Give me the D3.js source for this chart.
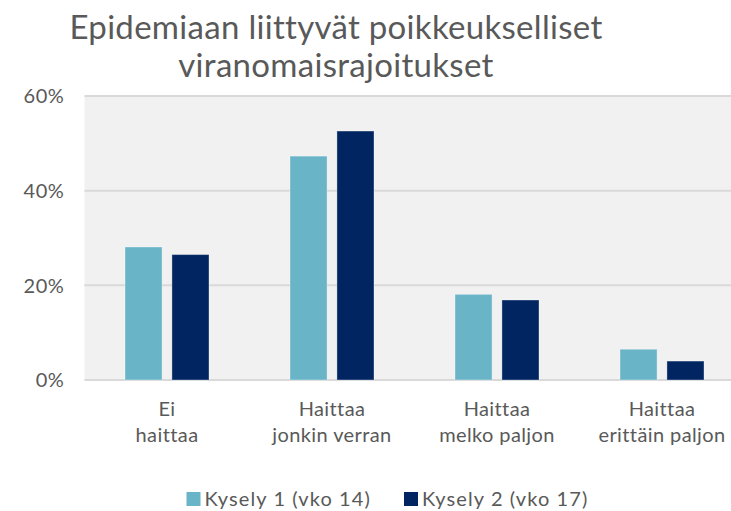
<!DOCTYPE html>
<html>
<head>
<meta charset="utf-8">
<script src="https://cdn.jsdelivr.net/npm/d3@7"></script>
<style>
  body { margin: 0; background: #fff; }
  svg { display: block; font-family: Lato, "Open Sans", sans-serif; }
</style>
</head>
<body>
<div id="chart"></div>
<script>
// data
var categories = [["Ei", "haittaa"], ["Haittaa", "jonkin verran"], ["Haittaa", "melko paljon"], ["Haittaa", "erittäin paljon"]];
var seriesNames = ["Kysely 1 (vko 14)", "Kysely 2 (vko 17)"];
var kysely1 = [0.281, 0.473, 0.181, 0.065];
var kysely2 = [0.265, 0.526, 0.169, 0.040];
var yTicks = [0, 0.2, 0.4, 0.6];
var titleLines = ["Epidemiaan liittyvät poikkeukselliset", "viranomaisrajoitukset"];

var W = 731, H = 511;
var margin = { top: 96, left: 84.5, right: -13.5, bottom: 131 }; // plot runs off the right edge
var width = W - margin.left - margin.right,
    height = H - margin.top - margin.bottom;

var colors = ["#6ab4c8", "#002561"];

var svg = d3.select("#chart").append("svg")
    .attr("width", W)
    .attr("height", H);

var g = svg.append("g")
    .attr("transform", "translate(" + margin.left + "," + margin.top + ")");

var x0 = d3.scaleBand()
    .domain(d3.range(categories.length))
    .range([0, width]);

var x1 = d3.scaleBand()
    .domain([0, 1])
    .range([40.5, 124.5])
    .paddingInner(0.21);

var y = d3.scaleLinear()
    .domain([0, 0.6])
    .range([height, 0]);

// plot background
g.append("rect")
    .attr("x", 0).attr("y", 0)
    .attr("width", width).attr("height", height)
    .attr("fill", "#f1f1f1");

// gridlines
g.selectAll(".grid")
    .data(yTicks)
    .enter().append("line")
    .attr("x1", 0).attr("x2", width)
    .attr("y1", d => y(d)).attr("y2", d => y(d))
    .attr("stroke", "#d9d9d9")
    .attr("stroke-width", 2);

// y labels
g.selectAll(".ylab")
    .data(yTicks)
    .enter().append("text")
    .attr("x", -20)
    .attr("y", d => y(d))
    .attr("dy", "0.36em")
    .attr("text-anchor", "end")
    .attr("fill", "#595959")
    .attr("font-size", 20)
    .attr("letter-spacing", 0.6)
    .text(d3.format(".0%"));

var series = [kysely1, kysely2];
series.forEach(function(vals, s) {
    g.selectAll(".bar" + s)
        .data(vals)
        .enter().append("rect")
        .attr("x", (d, i) => x0(i) + x1(s))
        .attr("y", d => y(d))
        .attr("width", x1.bandwidth())
        .attr("height", d => y(0) - y(d))
        .attr("fill", colors[s])
        .attr("stroke", "#ffffff")
        .attr("stroke-opacity", 0.35)
        .attr("stroke-width", 1);
});

// category labels, two lines each
var cat = g.selectAll(".cat")
    .data(categories)
    .enter().append("text")
    .attr("text-anchor", "middle")
    .attr("fill", "#595959")
    .attr("font-size", 20)
    .attr("letter-spacing", 0.4)
    .attr("transform", (d, i) => "translate(" + (x0(i) + x0.bandwidth() / 2) + "," + (height + 36) + ")");
cat.selectAll("tspan")
    .data(d => d)
    .enter().append("tspan")
    .attr("x", 0)
    .attr("dy", (d, i) => i ? 26 : 0)
    .text(d => d);

// title, one text per line
svg.selectAll(".title")
    .data(titleLines)
    .enter().append("text")
    .attr("text-anchor", "middle")
    .attr("fill", "#595959")
    .attr("font-size", 33)
    .attr("letter-spacing", 0.3)
    .attr("x", 336)
    .attr("y", (d, i) => 39 + i * 38)
    .text(d => d);

// legend
var legX = [186.5, 404];
var leg = svg.selectAll(".leg")
    .data(seriesNames)
    .enter().append("g")
    .attr("transform", (d, i) => "translate(" + legX[i] + ",492)");
leg.append("rect")
    .attr("width", 14).attr("height", 14)
    .attr("fill", (d, i) => colors[i]);
leg.append("text")
    .attr("x", 18).attr("y", 7)
    .attr("dy", "0.36em")
    .attr("fill", "#595959")
    .attr("font-size", 20)
    .attr("letter-spacing", 1.1)
    .text(d => d);
</script>
</body>
</html>
